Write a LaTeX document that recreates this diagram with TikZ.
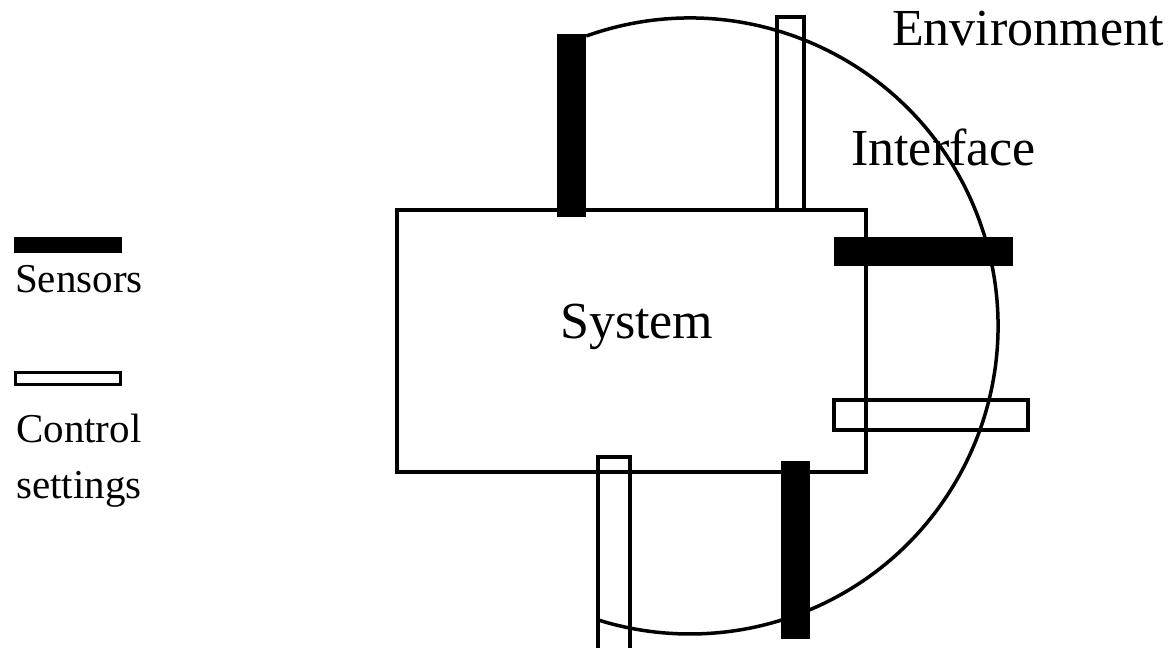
\documentclass[tikz,border=0pt]{standalone}
\usepackage{fontspec}
\setmainfont{Liberation Serif}
\begin{document}
\begin{tikzpicture}[x=1pt,y=-1pt,
  line/.style={line width=3.5pt},
  sensor/.style={fill=black,draw=none},
  ctrl/.style={draw=black,line width=3.5pt},
  big/.style={font=\fontsize{52}{60}\selectfont,inner sep=0pt,anchor=base west},
  small/.style={font=\fontsize{41}{48}\selectfont,inner sep=0pt,anchor=base west}]
\useasboundingbox[fill=white] (0,0) rectangle (1175,648);
% interface arc (environment boundary); y axis points down
\draw[line] (690,326) ++(-109.7:308) arc[start angle=-109.7,end angle=107.4,radius=308];
% system box
\draw[line] (397,210) rectangle (866,472);
\node[big] (sys) at (560,338) {System};
% top sensor and control
\fill[sensor] (557,34) rectangle (586,217);
\draw[ctrl] (777,210) -- (777,17) -- (804,17) -- (804,210);
% right sensor and control
\fill[sensor] (834,237) rectangle (1013,266);
\draw[ctrl] (834,400) rectangle (1028,430);
% bottom control and sensor
\draw[ctrl] (598,648) -- (598,457) -- (630,457) -- (630,648);
\fill[sensor] (781,461) rectangle (810,639);
% labels
\node[big] (env) at (892,45) {Environment};
\node[big] (intf) at (851,165) {Interface};
% legend
\fill[sensor] (14,237) rectangle (122,253);
\node[small] (sens) at (15,292) {Sensors};
\draw[line] (15.5,372.5) rectangle (120.5,384.5);
\node[small] (ctl) at (16,442) {Control};
\node[small] (set) at (16,498) {settings};
\end{tikzpicture}
\end{document}
